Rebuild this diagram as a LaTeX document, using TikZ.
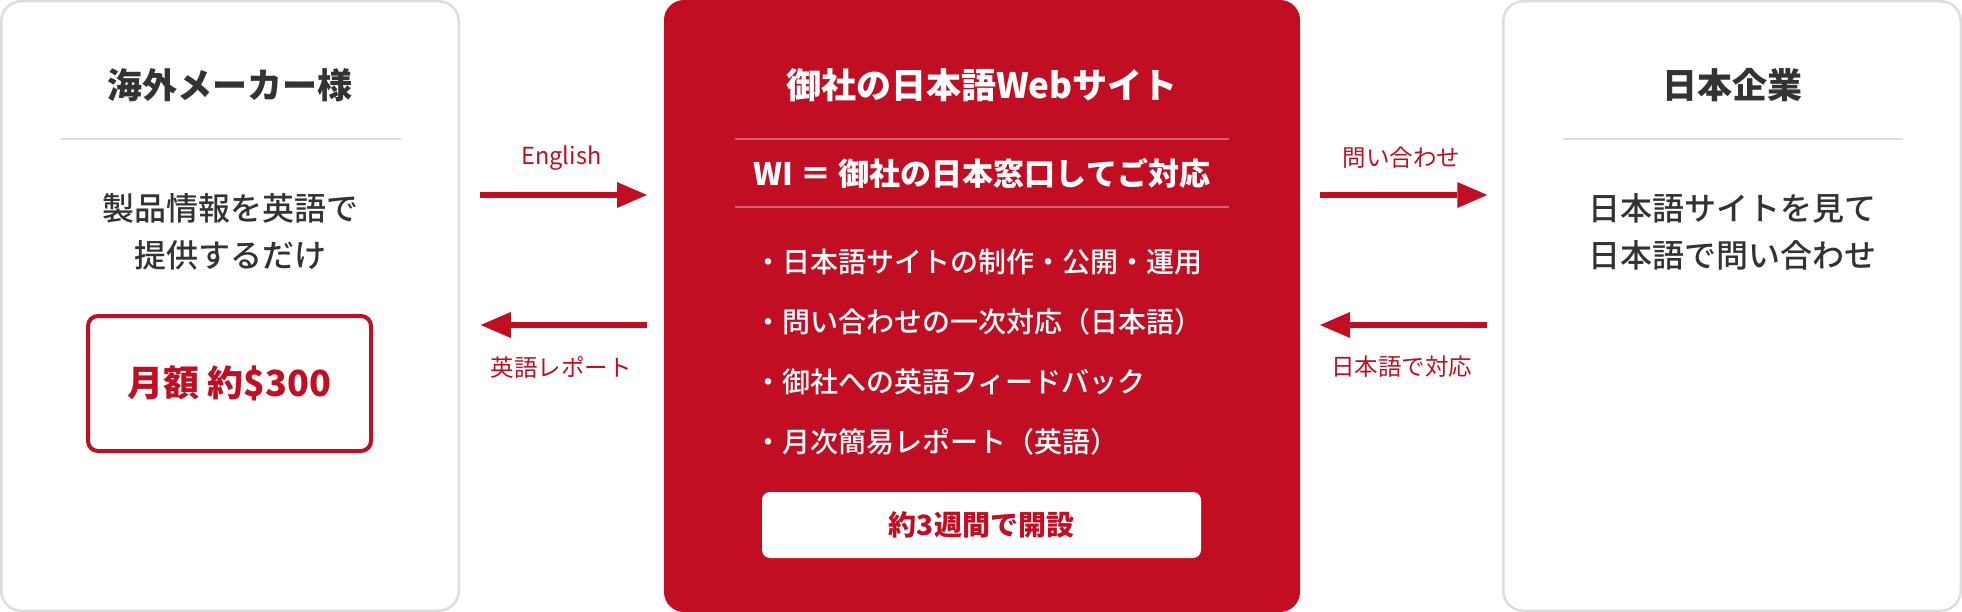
\documentclass[tikz,border=0pt]{standalone}
\usepackage{fontspec}
\setmainfont{Noto Sans CJK JP}
\newfontfamily\medfont{Noto Sans CJK JP Medium}
\usetikzlibrary{arrows.meta}
\definecolor{wired}{HTML}{C20E23}
\definecolor{ink}{HTML}{333333}
\definecolor{rulegray}{HTML}{DDDDDD}
\tikzstyle{panel}=[draw=rulegray,line width=2.5pt,fill=white,rounded corners=20pt,minimum width=457.5pt,minimum height=609.5pt,inner sep=0pt,outer sep=0pt]
\tikzstyle{heading}=[font=\bfseries\fontsize{35}{40}\selectfont,inner sep=0pt]
\tikzstyle{body}=[font=\medfont\fontsize{32}{47}\selectfont,text=ink,align=center,inner sep=0pt]
\tikzstyle{item}=[font=\medfont\fontsize{28}{32}\selectfont,text=white,anchor=west,inner sep=0pt]
\tikzstyle{lbl}=[font=\fontsize{23.5}{28}\selectfont,text=wired,inner sep=0pt]
\tikzstyle{flow}=[wired,line width=6pt,-{Triangle[length=30pt,width=26pt,line width=0pt]}]
\tikzstyle{divider}=[rulegray,line width=2.5pt]

\begin{document}
\begin{tikzpicture}[x=1pt,y=-1pt]
  \useasboundingbox (0,0) rectangle (1962,612);

  % three columns
  \node[panel] (maker) at (230,306) {};
  \node[fill=wired,rounded corners=20pt,minimum width=636pt,minimum height=612pt,inner sep=0pt,outer sep=0pt] (site) at (982,306) {};
  \node[panel] (client) at (1732,306) {};

  % left
  \node[heading,text=ink] (makertitle) at (230,85) {海外メーカー様};
  \draw[divider] (61,139) -- (401,139);
  \node[body] (makertext) at (230,231.5) {製品情報を英語で\\提供するだけ};
  \node[draw=wired,line width=4pt,rounded corners=10pt,minimum width=283pt,minimum height=135pt,
        font=\bfseries\fontsize{36}{40}\selectfont,text=wired,inner sep=0pt] (price) at (229.5,383.5) {月額 約\$300};

  % middle
  \node[heading,text=white] (sitetitle) at (982,85) {御社の日本語Webサイト};
  \draw[white,opacity=.35,line width=2pt] (735,139) -- (1229,139);
  \node[font=\bfseries\fontsize{31}{36}\selectfont,text=white,inner sep=0pt] (window) at (982,173) {WI ＝ 御社の日本窓口してご対応};
  \draw[white,opacity=.35,line width=2pt] (735,207) -- (1229,207);
  \foreach \t [count=\i] in {日本語サイトの制作・公開・運用,問い合わせの一次対応（日本語）,御社への英語フィードバック,月次簡易レポート（英語）}{
    \node[item] (b\i) at (754,{262+60*(\i-1)}) {・\t};
  }
  \node[fill=white,rounded corners=8pt,minimum width=439pt,minimum height=66pt,inner sep=0pt,
        font=\bfseries\fontsize{28}{32}\selectfont,text=wired] (launch) at (981.5,525) {約3週間で開設};

  % right
  \node[heading,text=ink] (clienttitle) at (1732,85) {日本企業};
  \draw[divider] (1563,139) -- (1903,139);
  \node[body] (clienttext) at (1732,231.5) {日本語サイトを見て\\日本語で問い合わせ};

  % arrows
  \draw[flow,shorten <=21pt,shorten >=17pt] ([yshift=111pt]maker.east) -- ([yshift=111pt]site.west)
    node[lbl,midway,yshift=37pt] (en) {English};
  \draw[flow,shorten <=17pt,shorten >=22pt] ([yshift=-19pt]site.west) -- ([yshift=-19pt]maker.east)
    node[lbl,midway,yshift=-42pt] (report) {英語レポート};
  \draw[flow,shorten <=20pt,shorten >=16pt] ([yshift=111pt]site.east) -- ([yshift=111pt]client.west)
    node[lbl,midway,yshift=37pt] (ask) {問い合わせ};
  \draw[flow,shorten <=16pt,shorten >=20pt] ([yshift=-19pt]client.west) -- ([yshift=-19pt]site.east)
    node[lbl,midway,yshift=-42pt] (reply) {日本語で対応};
\end{tikzpicture}
\end{document}
